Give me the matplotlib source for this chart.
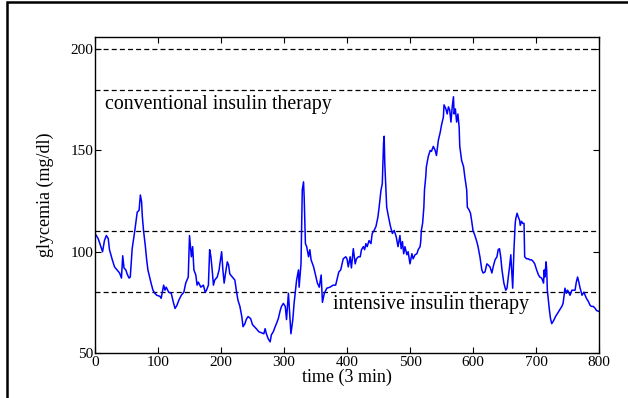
import matplotlib
matplotlib.use("Agg")
from matplotlib import pyplot as plt
from matplotlib.patches import Rectangle

# glycemia trace (time in 3 min steps, mg/dl)
t = [0, 5, 12, 15, 18, 21, 23, 27, 31, 35, 39, 42, 44, 46, 49, 51, 54, 56, 59, 63,
     67, 70, 72, 74, 75, 77, 80, 82, 84, 87, 89, 92, 95, 98, 103, 105, 109, 111, 113, 117,
     121, 124, 127, 130, 133, 137, 141, 144, 148, 150, 153, 155, 157, 160, 162,
     164, 168, 172, 175, 177, 180, 182, 184, 186, 188, 190, 194, 197, 198, 201, 203, 205,
     207, 210, 212, 214, 218, 222, 225, 227, 230, 233, 235, 238, 240, 243, 247, 250, 253,
     256, 260, 264, 268, 270, 272, 275, 278, 280, 283, 286, 288, 291, 294, 296, 299, 302,
     304, 307, 308, 311, 314, 316,
     320, 323, 324, 327, 329, 331, 332, 334, 336, 339, 341, 343, 347, 350, 353, 356, 359,
     361, 364, 368, 373, 378, 382, 385, 387, 390, 394, 398, 400, 402, 405, 407, 410, 413,
     415, 418, 421, 423, 426, 428, 430, 432, 435, 438, 440, 443, 446, 449, 451, 454, 456,
     458, 459, 460, 463, 466, 469, 472, 475, 478,
     481, 484, 486, 488, 490, 492, 495, 497, 500, 503, 505, 508, 511, 513, 516, 517, 518,
     520, 522, 523, 525, 526, 529, 532, 534, 537, 540, 542, 545, 548, 550, 553, 554, 557,
     559, 561, 563, 565, 567, 569, 570, 572, 574, 576, 578, 579, 582, 585, 587, 590, 591,
     594, 596, 598, 600, 603, 606, 608, 611, 614, 616, 619, 622, 624, 627, 630, 632, 635,
     638, 640,
     642, 644, 646, 649, 652, 654, 656, 658, 660, 662, 663, 665, 667, 668, 670, 672, 674,
     675, 677, 679, 681, 682, 685, 688, 690, 693, 696, 698, 701, 704, 706, 709, 712, 713,
     714, 716, 717, 718, 721, 723, 725, 728, 731, 735, 738, 741, 743, 746, 748, 750, 751,
     754, 757, 759, 762, 764, 766, 768, 770, 771, 773, 776, 778, 780, 783, 786, 788, 791,
     794, 796, 800]
glycemia = [109, 106.5, 100, 105.5, 108, 106.5, 101, 96.5, 92.5, 91, 89.5, 87, 98, 92, 91, 89, 87, 87.5, 101.5, 110,
            119.5, 120.5, 128, 124.5, 118, 110.5, 102.5, 96, 91, 87, 84.5, 81, 79.5, 78.5, 78, 77, 83.5, 81, 82.5, 80,
            79.5, 75.5, 72, 73.5, 76, 78.5, 80, 84.5, 87.5, 108, 97.5, 102.5, 91, 88.5, 83.5,
            85, 82.5, 83.5, 80, 81, 83.5, 101, 97.5, 91, 83.5, 86, 87.5, 91, 93.5, 100, 91, 84.5,
            89, 95, 93.5, 89, 87.5, 86, 79.5, 76, 73, 68, 63, 64.5, 66.5, 68, 67, 64, 63,
            62, 60.5, 60, 59.5, 62, 59.5, 57, 55.5, 59, 60.5, 63, 64.5, 67, 71, 73, 74.5, 73,
            66.5, 79.5, 74.5, 59.5, 66.5, 74.5,
            86, 91, 82.5, 94, 130.5, 134.5, 127, 104, 102.5, 97.5, 101, 96, 92.5, 88.5, 84.5, 82.5, 88.5,
            75, 79.5, 82, 82.5, 83.5, 83.5, 87.5, 90, 91, 96.5, 97.5, 96.5, 92.5, 97.5, 92, 101.5, 94,
            96.5, 97.5, 97.5, 101, 102.5, 101, 104, 102.5, 105.5, 104, 109, 110.5, 112.5, 117, 122, 130.5, 133.5,
            153.5, 157, 143.5, 122, 117, 112.5, 109, 110.5, 107.5,
            102.5, 108, 101.5, 105, 99, 102.5, 98.5, 100, 94, 99, 96.5, 98.5, 99, 101, 102.5, 105, 110.5,
            114, 122, 130.5, 137, 142, 147, 150, 149.5, 152, 150, 147.5, 155, 159, 162.5, 166.5, 172.5, 170.5,
            168, 171.5, 170, 164, 171.5, 176.5, 168, 170.5, 164, 168, 161.5, 152, 145, 142, 137, 130.5, 122,
            120.5, 119, 115, 110.5, 108, 105, 102.5, 97.5, 91, 89.5, 90, 94, 93.5, 92.5, 89.5, 92.5, 96,
            97.5, 101,
            101.5, 97.5, 91, 84.5, 81, 82, 87.5, 92.5, 98.5, 87.5, 82, 101, 114, 116.5, 119, 117, 115.5,
            113, 115, 114, 114, 97.5, 96.5, 96.5, 96, 96, 95, 94, 91, 88.5, 87.5, 87, 84.5, 91,
            87.5, 95, 91, 81, 72, 67, 64.5, 66, 68, 70, 71.5, 73, 74.5, 82, 79.5, 81, 80.5,
            78.5, 81, 81, 81, 85, 87.5, 85, 82, 81, 78.5, 80, 78.5, 77, 75.5, 73.5, 73, 73,
            72, 71, 70.5]

thresholds = [200, 180, 110, 80]
region_labels = ["conventional insulin therapy", "intensive insulin therapy"]
x_ticks = [0, 100, 200, 300, 400, 500, 600, 700, 800]
y_ticks = [50, 100, 150, 200]

plt.rcParams["font.family"] = ["Liberation Serif", "DejaVu Serif"]

fig = plt.figure(figsize=(6.28, 3.98), dpi=100)
ax = fig.add_axes([95 / 628, 45 / 398, 504 / 628, 316 / 398])

for level in thresholds:
    ax.axhline(level, color="black", lw=0.9, ls=(0, (4, 2.5)))
ax.plot(t, glycemia, color="#0000ff", lw=1.1)

ax.text(16, 172.8, region_labels[0], fontsize=14.3, va="center", ha="left")
ax.text(378, 73.7, region_labels[1], fontsize=14.3, va="center", ha="left")

ax.set_xlim(0, 800)
ax.set_ylim(50, 206)
ax.set_xticks(x_ticks)
ax.set_yticks(y_ticks)
ax.tick_params(direction="in", top=True, right=True, length=4, labelsize=11)
ax.tick_params(axis="x", pad=2)
ax.tick_params(axis="y", pad=1)
for s in ax.spines.values():
    s.set_linewidth(1.0)

ax.set_xlabel("time (3 min)", fontsize=13, labelpad=0)
ax.set_ylabel("glycemia (mg/dl)", fontsize=13, labelpad=12)

# outer frame of the figure (only left and top edges fall inside the picture)
fig.add_artist(Rectangle((7 / 628, -0.2), 1.2, (396 / 398) + 0.2, transform=fig.transFigure,
                         fill=False, lw=1.8, edgecolor="black"))

plt.savefig("out.png", dpi=100)
